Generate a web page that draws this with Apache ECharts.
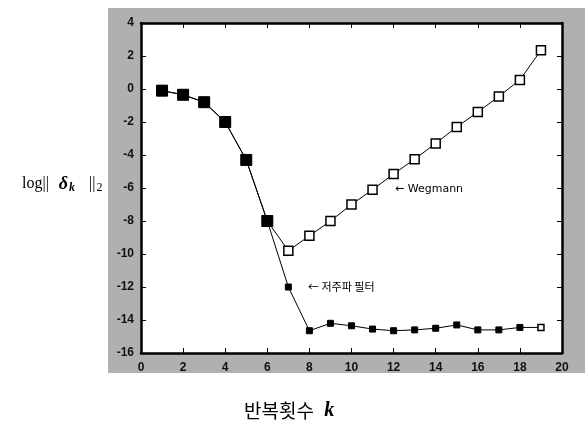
<!DOCTYPE html>
<html>
<head>
<meta charset="utf-8">
<title>반복횟수</title>
<script src="https://cdn.jsdelivr.net/npm/echarts@6/dist/echarts.min.js"></script>
<style>
  html, body { margin: 0; padding: 0; background: #fff; }
  #chart { width: 587px; height: 429px; }
</style>
</head>
<body>
<div id="chart"></div>
<script>
// 반복횟수 k
var iterations = [1, 2, 3, 4, 5, 6, 7, 8, 9, 10, 11, 12, 13, 14, 15, 16, 17, 18, 19];
// Wegmann
var wegmann = [-0.1, -0.35, -0.8, -2.0, -4.3, -8.0, -9.8, -8.9, -8.0, -7.0, -6.1, -5.15, -4.25, -3.3, -2.3, -1.4, -0.45, 0.55, 2.35];
// 저주파 필터
var lowpass = [-0.1, -0.35, -0.8, -2.0, -4.3, -8.0, -12.0, -14.65, -14.2, -14.35, -14.55, -14.65, -14.6, -14.5, -14.3, -14.6, -14.6, -14.45, -14.45];
var xTicks = [0, 2, 4, 6, 8, 10, 12, 14, 16, 18, 20];
var yTicks = [4, 2, 0, -2, -4, -6, -8, -10, -12, -14, -16];

var chart = echarts.init(document.getElementById('chart'));

var wegData = iterations.map(function (k, i) { return [k, wegmann[i]]; });
var lpData = iterations.map(function (k, i) {
    var item = { value: [k, lowpass[i]] };
    if (i < 6) {
        item.symbolSize = 11;
    } else if (i === iterations.length - 1) {
        item.itemStyle = { color: '#fff', borderColor: '#000', borderWidth: 1.5 };
    }
    return item;
});

var tickLabel = { color: '#111', fontSize: 12, fontWeight: 'bold', fontFamily: 'Liberation Sans, Arial, sans-serif' };
var frameLine = { onZero: false, lineStyle: { color: '#000', width: 2.5 } };
var frameTick = { inside: true, length: 5, lineStyle: { color: '#000' } };
var serif = 'Liberation Serif, serif';

chart.setOption({
    backgroundColor: '#fff',
    animation: false,
    grid: { left: 141, top: 23, right: 25, bottom: 76 },
    graphic: [
        { type: 'rect', z: -10, shape: { x: 108, y: 8, width: 477, height: 365 }, style: { fill: '#b0b0b0' } },
        { type: 'rect', z: -9, shape: { x: 141, y: 23, width: 421, height: 330 }, style: { fill: '#fff' } },
        {
            type: 'text', left: 22, top: 175,
            style: {
                text: '{a|log||}{b|δ}{c|k}{e|||}{d|2}',
                rich: {
                    a: { fontSize: 16, fontFamily: serif, fill: '#000', padding: [0, 10, 0, 0] },
                    b: { fontSize: 18, fontWeight: 'bold', fontStyle: 'italic', fontFamily: serif, fill: '#000' },
                    c: { fontSize: 12, fontWeight: 'bold', fontStyle: 'italic', fontFamily: serif, fill: '#000', padding: [8, 0, 0, 1] },
                    e: { fontSize: 16, fontFamily: serif, fill: '#000', padding: [0, 1, 0, 14] },
                    d: { fontSize: 12, fontFamily: serif, fill: '#000', padding: [8, 0, 0, 0] }
                }
            }
        },
        {
            type: 'text', left: 244, top: 401,
            style: {
                text: '{a|반복횟수 }{b|k}',
                rich: {
                    a: { fontSize: 19, fontFamily: 'Noto Sans CJK KR', fill: '#000' },
                    b: { fontSize: 20, fontWeight: 'bold', fontStyle: 'italic', fontFamily: serif, fill: '#000', padding: [0, 0, 0, 6] }
                }
            }
        },
        {
            type: 'text', left: 395, top: 184,
            style: { text: '← Wegmann', fontSize: 11, fontFamily: 'DejaVu Sans, sans-serif', fill: '#000' }
        },
        {
            type: 'text', left: 308, top: 281,
            style: { text: '← 저주파 필터', fontSize: 11, fontFamily: 'Noto Sans CJK KR', fill: '#000' }
        }
    ],
    xAxis: [
        {
            type: 'value', min: 0, max: 20, interval: 2,
            axisLine: frameLine,
            axisTick: frameTick,
            axisLabel: Object.assign({ margin: 9, formatter: function (v) { return xTicks.indexOf(v) >= 0 ? String(v) : ''; } }, tickLabel),
            splitLine: { show: false }
        },
        {
            type: 'value', position: 'top', min: 0, max: 20, interval: 2,
            axisLine: frameLine,
            axisTick: frameTick,
            axisLabel: { show: false },
            splitLine: { show: false }
        }
    ],
    yAxis: [
        {
            type: 'value', min: -16, max: 4, interval: 2,
            axisLine: frameLine,
            axisTick: frameTick,
            axisLabel: Object.assign({ margin: 7, formatter: function (v) { return yTicks.indexOf(v) >= 0 ? String(v) : ''; } }, tickLabel),
            splitLine: { show: false }
        },
        {
            type: 'value', position: 'right', min: -16, max: 4, interval: 2,
            axisLine: frameLine,
            axisTick: frameTick,
            axisLabel: { show: false },
            splitLine: { show: false }
        }
    ],
    series: [
        {
            name: 'Wegmann',
            type: 'line',
            data: wegData,
            symbol: 'rect',
            symbolSize: 9,
            lineStyle: { color: '#000', width: 1 },
            itemStyle: { color: '#fff', borderColor: '#000', borderWidth: 1.5 },
            z: 2
        },
        {
            name: '저주파 필터',
            type: 'line',
            data: lpData,
            symbol: 'rect',
            symbolSize: 6,
            lineStyle: { color: '#000', width: 1 },
            itemStyle: { color: '#000', borderColor: '#000', borderWidth: 1 },
            z: 3
        }
    ]
});
</script>
</body>
</html>
